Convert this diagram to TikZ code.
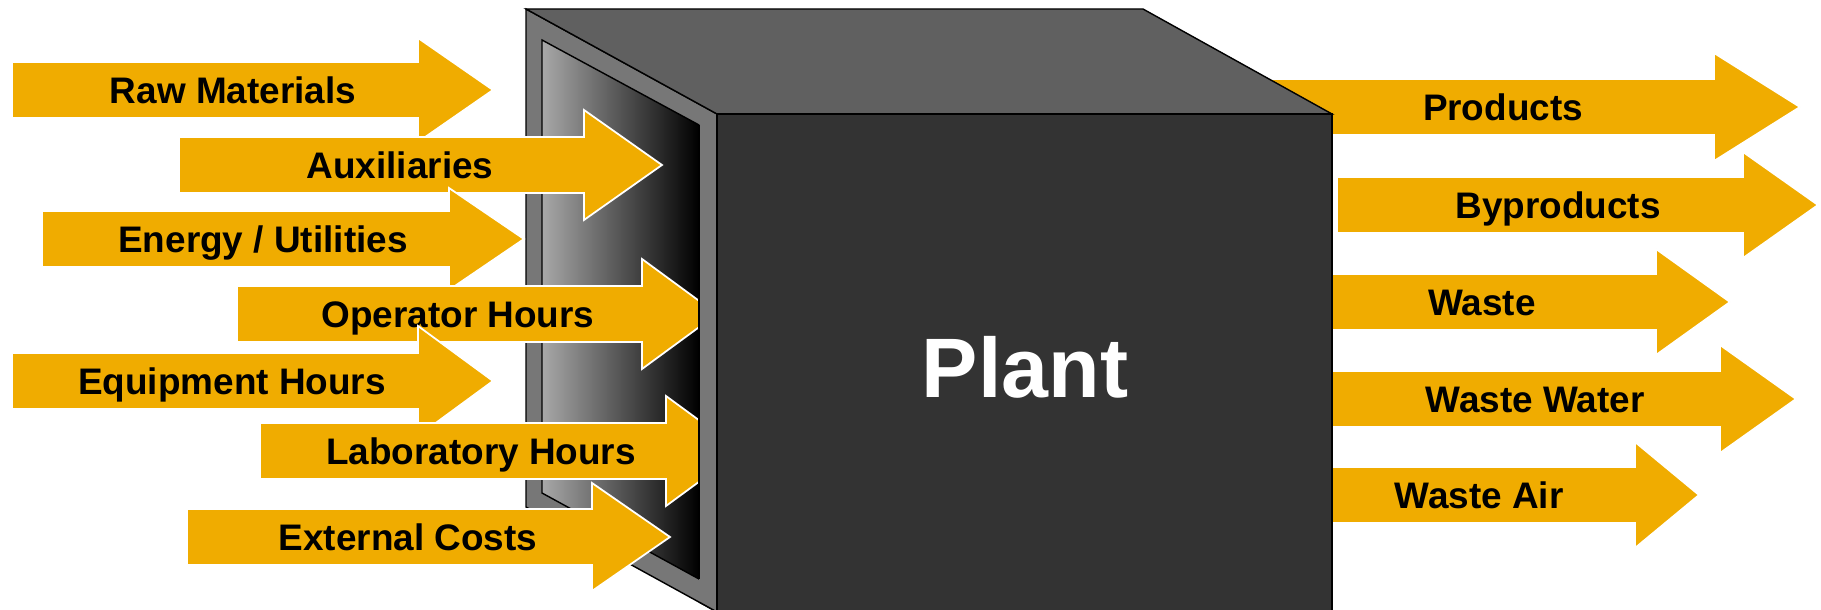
\documentclass[tikz,border=0pt]{standalone}
\usepackage{fontspec}
\setmainfont{Liberation Sans}
\usepackage{tikz}
\usetikzlibrary{positioning}
\usepackage{xcolor}

\definecolor{flowgold}{RGB}{240,172,0}
\definecolor{framegray}{RGB}{119,119,119}
\definecolor{topgray}{RGB}{96,96,96}
\definecolor{frontgray}{RGB}{51,51,51}
\definecolor{openlight}{RGB}{168,168,168}
\definecolor{openmid}{RGB}{124,124,124}

\tikzset{
  flow/.style={fill=flowgold, draw=white, line width=0.5pt},
  flowlabel/.style={font=\bfseries\fontsize{10.5}{12}\selectfont, text=black,
                    inner sep=0pt, text height=7.5pt, text depth=0pt},
  face/.style={draw=black, line width=0.4pt, line join=miter},
}

% block arrow: shaft left, centre y, head base, tip, half head height
\newcommand{\flowarrow}[5]{%
  \filldraw[flow] (#1,#2-28) -- (#3,#2-28) -- (#3,#2-#5) -- (#4,#2)
    -- (#3,#2+#5) -- (#3,#2+28) -- (#1,#2+28) -- cycle;}

\begin{document}
\begin{tikzpicture}[x=0.01cm, y=-0.01cm]
\clip (0,0) rectangle (1821,610);
\fill[white] (0,0) rectangle (1821,610);

% left face of the plant box with its opening
\filldraw[face, fill=framegray] (526,9) -- (717,114) -- (717,612) -- (526,507) -- cycle;
\shade[left color=openlight, middle color=openmid, right color=black]
  (542,40) -- (699,125) -- (699,579) -- (542,493) -- cycle;
\draw[face] (542,493) -- (542,40) -- (699,125) -- (699,579) -- cycle;

% outputs
\flowarrow{1250}{107}{1714}{1800}{54}
\node[flowlabel] (products) at (1503,107) {Products};
\flowarrow{1337}{205}{1743}{1818}{53}
\node[flowlabel] (byproducts) at (1558,205) {Byproducts};
\flowarrow{1300}{302}{1656}{1730}{53}
\node[flowlabel] (waste) at (1482,302) {Waste};
\flowarrow{1300}{399}{1720}{1796}{54}
\node[flowlabel] (wastewater) at (1535,399) {Waste Water};
\flowarrow{1300}{495}{1635}{1699}{53}
\node[flowlabel] (wasteair) at (1479,495) {Waste Air};

% top face
\filldraw[face, fill=topgray] (526,9) -- (1143,9) -- (1332,114) -- (717,114) -- cycle;

% inputs
\flowarrow{12}{90}{418}{493}{52}
\node[flowlabel] (raw) at (233,90) {Raw Materials};
\flowarrow{179}{165}{584}{662}{55}
\node[flowlabel] (aux) at (400,165) {Auxiliaries};
\flowarrow{42}{239}{449}{524}{51}
\node[flowlabel] (energy) at (263,239) {Energy / Utilities};
\flowarrow{237}{314}{642}{717}{55}
\node[flowlabel] (operator) at (458,314) {Operator Hours};
\flowarrow{12}{381}{418}{493}{55}
\node[flowlabel] (equipment) at (232,381) {Equipment Hours};
\flowarrow{260}{451}{666}{741}{55}
\node[flowlabel] (lab) at (481,451) {Laboratory Hours};
\flowarrow{187}{537}{592}{670}{54}
\node[flowlabel] (external) at (408,537) {External Costs};

% frame edge and front face over the arrow tips
\fill[framegray] (699,125) -- (717,114) -- (717,612) -- (699,602) -- cycle;
\draw[face] (699,125) -- (699,579);
\draw[face] (699,602) -- (717,612);
\filldraw[face, fill=frontgray] (717,114) -- (1332,114) -- (1332,615) -- (717,615) -- cycle;

\node[font=\bfseries\fontsize{24}{28}\selectfont, text=white, inner sep=0pt,
      text height=17.2pt, text depth=0pt] (plant) at (1025,367) {Plant};
\end{tikzpicture}
\end{document}
